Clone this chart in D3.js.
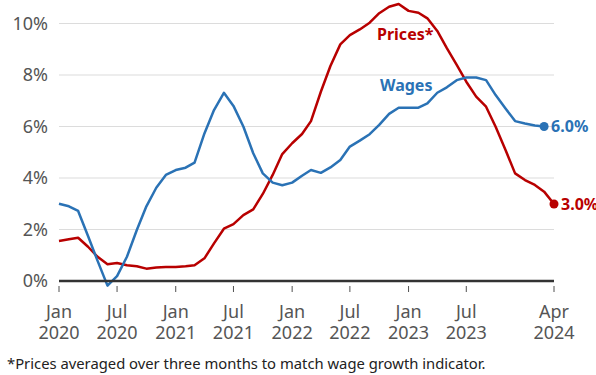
<!DOCTYPE html>
<html>
<head>
<meta charset="utf-8">
<script src="https://cdn.jsdelivr.net/npm/d3@7"></script>
<style>
  body { margin: 0; background: #fff; }
  svg { display: block; font-family: "Noto Sans", "Open Sans", sans-serif; }
</style>
</head>
<body>
<svg width="596" height="375"></svg>
<script>
// monthly values, Jan 2020 onwards
const wages = [3.0, 2.9, 2.72, 1.75, 0.78, -0.18, 0.19, 0.94, 1.98, 2.9, 3.62, 4.12,
  4.31, 4.4, 4.6, 5.73, 6.64, 7.31, 6.8, 6.0, 4.96, 4.18, 3.82, 3.72,
  3.82, 4.09, 4.31, 4.2, 4.41, 4.7, 5.22, 5.45, 5.7, 6.06, 6.49, 6.73,
  6.73, 6.73, 6.9, 7.31, 7.52, 7.8, 7.9, 7.9, 7.8, 7.22, 6.7, 6.21,
  6.12, 6.04, 6.0];
const prices = [1.55, 1.62, 1.68, 1.33, 0.94, 0.65, 0.7, 0.61, 0.57, 0.48, 0.52, 0.54,
  0.54, 0.57, 0.61, 0.88, 1.46, 2.03, 2.21, 2.56, 2.78, 3.38, 4.12, 4.93,
  5.35, 5.71, 6.21, 7.35, 8.35, 9.19, 9.55, 9.77, 10.03, 10.4, 10.65, 10.76,
  10.49, 10.42, 10.2, 9.71, 9.04, 8.39, 7.74, 7.16, 6.77, 5.99, 5.09, 4.18,
  3.92, 3.73, 3.47, 2.99];
const yTicks = [0, 2, 4, 6, 8, 10];
const xTicks = [
  { date: new Date(2020, 0, 1), month: 'Jan', year: '2020' },
  { date: new Date(2020, 6, 1), month: 'Jul', year: '2020' },
  { date: new Date(2021, 0, 1), month: 'Jan', year: '2021' },
  { date: new Date(2021, 6, 1), month: 'Jul', year: '2021' },
  { date: new Date(2022, 0, 1), month: 'Jan', year: '2022' },
  { date: new Date(2022, 6, 1), month: 'Jul', year: '2022' },
  { date: new Date(2023, 0, 1), month: 'Jan', year: '2023' },
  { date: new Date(2023, 6, 1), month: 'Jul', year: '2023' },
  { date: new Date(2024, 3, 1), month: 'Apr', year: '2024' },
];
const note = '*Prices averaged over three months to match wage growth indicator.';

const red = '#b80000';
const blue = '#2a72b5';

const monthDate = i => new Date(2020, i, 1);

const svg = d3.select('svg');

const x = d3.scaleTime()
  .domain([new Date(2020, 0, 1), new Date(2024, 3, 1)])
  .range([59, 554]);
const y = d3.scaleLinear()
  .domain([0, 10])
  .range([281, 23.5]);

// gridlines + y labels
const grid = svg.append('g');
grid.selectAll('line')
  .data(yTicks.filter(d => d !== 0))
  .join('line')
  .attr('x1', 59)
  .attr('x2', 554)
  .attr('y1', d => y(d))
  .attr('y2', d => y(d))
  .attr('stroke', '#dcdcdc')
  .attr('stroke-width', 1.2);
grid.selectAll('text')
  .data(yTicks)
  .join('text')
  .attr('x', 48)
  .attr('y', d => y(d))
  .attr('dy', '0.35em')
  .attr('text-anchor', 'end')
  .attr('fill', '#555')
  .style('font-size', '18px')
  .text(d => `${d}%`);

// x axis ticks
const xAxis = svg.append('g');
xAxis.selectAll('line')
  .data(xTicks)
  .join('line')
  .attr('x1', d => x(d.date))
  .attr('x2', d => x(d.date))
  .attr('y1', 286)
  .attr('y2', 292)
  .attr('stroke', '#505050')
  .attr('stroke-width', 1);
xAxis.selectAll('text.month')
  .data(xTicks)
  .join('text')
  .attr('class', 'month')
  .attr('x', d => x(d.date))
  .attr('y', 318)
  .attr('text-anchor', 'middle')
  .attr('fill', '#555')
  .style('font-size', '18px')
  .text(d => d.month);
xAxis.selectAll('text.year')
  .data(xTicks)
  .join('text')
  .attr('class', 'year')
  .attr('x', d => x(d.date))
  .attr('y', 339)
  .attr('text-anchor', 'middle')
  .attr('fill', '#555')
  .style('font-size', '18px')
  .text(d => d.year);

// lines
const line = d3.line()
  .x((d, i) => x(monthDate(i)))
  .y(d => y(d));

svg.append('path')
  .datum(prices)
  .attr('fill', 'none')
  .attr('stroke', red)
  .attr('stroke-width', 2.5)
  .attr('stroke-linejoin', 'round')
  .attr('d', line);

svg.append('path')
  .datum(wages)
  .attr('fill', 'none')
  .attr('stroke', blue)
  .attr('stroke-width', 2.5)
  .attr('stroke-linejoin', 'round')
  .attr('d', line);

// zero baseline
svg.append('line')
  .attr('x1', 59)
  .attr('x2', 554)
  .attr('y1', y(0))
  .attr('y2', y(0))
  .attr('stroke', '#333')
  .attr('stroke-width', 2.5);

// end points
const ends = [
  { values: wages, color: blue },
  { values: prices, color: red },
];
ends.forEach((s) => {
  const i = s.values.length - 1;
  const v = s.values[i];
  svg.append('circle')
    .attr('cx', x(monthDate(i)))
    .attr('cy', y(v))
    .attr('r', 4.5)
    .attr('fill', s.color);
  svg.append('text')
    .attr('x', x(monthDate(i)) + 7)
    .attr('y', y(v))
    .attr('dy', '0.35em')
    .attr('fill', s.color)
    .style('font-size', '16px')
    .style('font-weight', 'bold')
    .text(`${v.toFixed(1)}%`);
});

// series labels
svg.append('text')
  .attr('x', 377)
  .attr('y', 40)
  .attr('fill', red)
  .style('font-size', '16px')
  .style('font-weight', 'bold')
  .text('Prices*');
svg.append('text')
  .attr('x', 380)
  .attr('y', 91)
  .attr('fill', blue)
  .style('font-size', '16px')
  .style('font-weight', 'bold')
  .text('Wages');

// footnote
svg.append('text')
  .attr('x', 7)
  .attr('y', 369)
  .attr('fill', '#222')
  .style('font-size', '14.8px')
  .text(note);
</script>
</body>
</html>
